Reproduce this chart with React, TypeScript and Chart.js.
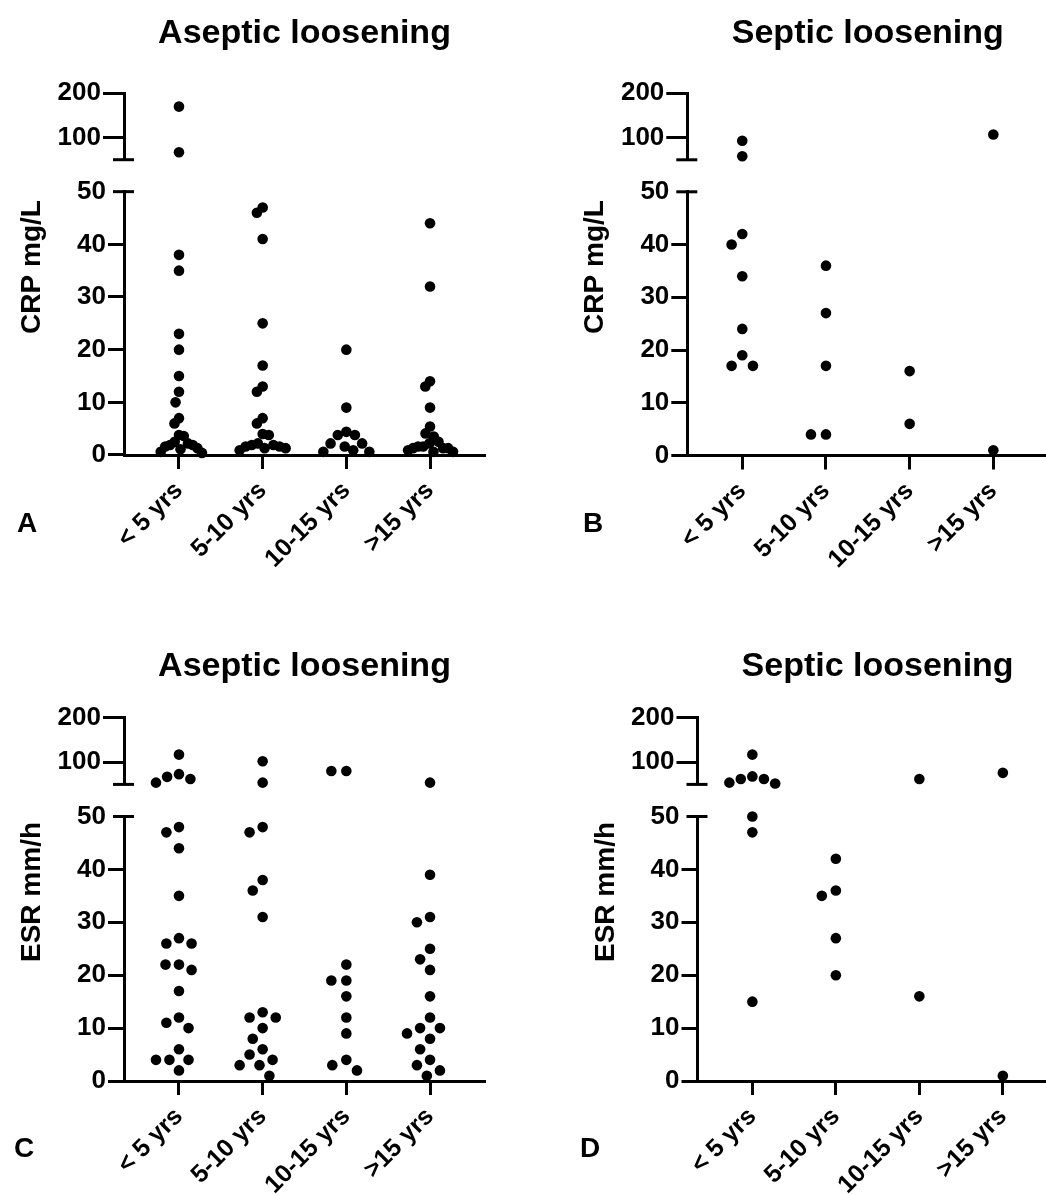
import React, { useEffect, useRef } from 'react';
import { Chart, registerables } from 'chart.js';

Chart.register(...registerables);

// ---------------- DATA ----------------
const CATEGORIES = ['< 5 yrs', '5-10 yrs', '10-15 yrs', '>15 yrs'];

// Panel A – CRP (mg/L), aseptic loosening
const crpAsepticLt5 = [170, 67, 38, 35, 23, 20, 15, 12, 10, 7, 6, 3.8, 3.6, 2.5, 2.2, 1.9, 1.9, 1.6, 1.3, 1.1, 0.6, 0.4];
const crpAseptic5to10 = [47, 46, 41, 25, 17, 13, 12, 7, 6, 4, 3.8, 2.2, 1.9, 1.9, 1.6, 1.6, 1.3, 1.3, 0.9];
const crpAseptic10to15 = [20, 9, 4.4, 3.8, 3.8, 2.2, 2.2, 1.6, 0.9, 0.6, 0.6];
const crpAsepticGt15 = [44, 32, 14, 13, 9, 5.4, 4.1, 3.5, 2.5, 2.2, 1.6, 1.6, 1.3, 1.3, 1.3, 0.9, 0.6, 0.6];

// Panel B – CRP (mg/L), septic loosening
const crpSepticLt5 = [93, 58, 42, 40, 34, 24, 19, 17, 17];
const crpSeptic5to10 = [36, 27, 17, 4, 4];
const crpSeptic10to15 = [16, 6];
const crpSepticGt15 = [107, 1];

// Panel C – ESR (mm/h), aseptic loosening
const esrAsepticLt5 = [117, 73, 67, 62, 54, 48, 47, 44, 35, 27, 26, 26, 22, 22, 21, 17, 12, 11, 10, 6, 4, 4, 4, 2];
const esrAseptic5to10 = [102, 54, 48, 47, 38, 36, 31, 13, 12, 12, 10, 8, 6, 5, 4, 3, 3, 1];
const esrAseptic10to15 = [80, 80, 22, 19, 19, 16, 12, 9, 4, 3, 2];
const esrAsepticGt15 = [54, 39, 31, 30, 25, 23, 21, 16, 12, 10, 10, 9, 8, 6, 4, 3, 2, 1];

// Panel D – ESR (mm/h), septic loosening
const esrSepticLt5 = [117, 68, 62, 62, 54, 52, 50, 47, 15];
const esrSeptic5to10 = [42, 36, 35, 27, 20];
const esrSeptic10to15 = [62, 16];
const esrSepticGt15 = [76, 1];

// Axis segments (broken y axis)
const LOWER_SEGMENT = [0, 50];
const UPPER_SEGMENT = [50, 200];
const LOWER_TICK_STEP = 10;
const UPPER_TICKS = [100, 200];

// ---------------- LAYOUT / STYLE ----------------
const FONT = "'Liberation Sans', Arial, Helvetica, sans-serif";
const BLACK = '#000000';
const POINT_RADIUS = 5.3;
const SWARM_DIST = 15;
const MAX_SPREAD = 23;
const X_PAD = 0.657; // axis extends this many category widths beyond first/last category
const SEG_WEIGHTS = { top: 66.5, gap: 32, bottom: 263.7 };
const Y_TITLE_OFFSET = 84;

type PanelDef = {
  id: string;
  title: string;
  yTitle: string;
  letter: string;
  groups: number[][];
  canvas: { left: number; top: number; w: number; h: number };
  axisX: number;
  plotTop: number;
  plotBottom: number;
  plotWidth: number;
  titleY: number;
  yTitleCy: number;
  letterX: number;
  letterY: number;
};

const PANELS: PanelDef[] = [
  {
    id: 'A', title: 'Aseptic loosening', yTitle: 'CRP mg/L', letter: 'A',
    groups: [crpAsepticLt5, crpAseptic5to10, crpAseptic10to15, crpAsepticGt15],
    canvas: { left: 0, top: 0, w: 523, h: 600 },
    axisX: 124, plotTop: 93.3, plotBottom: 455, plotWidth: 361,
    titleY: 43, yTitleCy: 267, letterX: 17, letterY: 532,
  },
  {
    id: 'B', title: 'Septic loosening', yTitle: 'CRP mg/L', letter: 'B',
    groups: [crpSepticLt5, crpSeptic5to10, crpSeptic10to15, crpSepticGt15],
    canvas: { left: 523, top: 0, w: 540, h: 600 },
    axisX: 687.3, plotTop: 93.3, plotBottom: 455.5, plotWidth: 361,
    titleY: 43, yTitleCy: 267, letterX: 60, letterY: 532,
  },
  {
    id: 'C', title: 'Aseptic loosening', yTitle: 'ESR mm/h', letter: 'C',
    groups: [esrAsepticLt5, esrAseptic5to10, esrAseptic10to15, esrAsepticGt15],
    canvas: { left: 0, top: 600, w: 523, h: 595 },
    axisX: 124, plotTop: 717.7, plotBottom: 1081, plotWidth: 361,
    titleY: 76, yTitleCy: 292, letterX: 14, letterY: 557,
  },
  {
    id: 'D', title: 'Septic loosening', yTitle: 'ESR mm/h', letter: 'D',
    groups: [esrSepticLt5, esrSeptic5to10, esrSeptic10to15, esrSepticGt15],
    canvas: { left: 523, top: 600, w: 540, h: 595 },
    axisX: 697.5, plotTop: 717.7, plotBottom: 1081, plotWidth: 361,
    titleY: 76, yTitleCy: 292, letterX: 57, letterY: 557,
  },
];

// ---------------- HELPERS ----------------
function swarmOffsets(ys: number[], dist: number, maxSpread: number): number[] {
  const order = ys.map((_, i) => i).sort((a, b) => ys[a] - ys[b]);
  const placed: { x: number; y: number }[] = [];
  const out = new Array(ys.length).fill(0);
  for (const i of order) {
    const y = ys[i];
    const intervals: [number, number][] = [];
    for (const p of placed) {
      const dy = Math.abs(p.y - y);
      if (dy < dist) {
        const w = Math.sqrt(dist * dist - dy * dy);
        intervals.push([p.x - w, p.x + w]);
      }
    }
    const cands = [0];
    intervals.forEach(([a, b]) => cands.push(a, b));
    cands.sort((a, b) => Math.abs(a) - Math.abs(b));
    let best = 0;
    for (const c of cands) {
      if (intervals.every(([a, b]) => c <= a + 1e-6 || c >= b - 1e-6)) {
        best = c;
        break;
      }
    }
    out[i] = best;
    placed.push({ x: best, y });
  }
  const widest = Math.max(0, ...out.map((o) => Math.abs(o)));
  const k = widest > maxSpread ? maxSpread / widest : 1;
  return out.map((o) => o * k);
}

const swarmPlugin = {
  id: 'swarm',
  afterDatasetsUpdate(chart: any) {
    chart.data.datasets.forEach((_: any, i: number) => {
      const els = chart.getDatasetMeta(i).data;
      const offs = swarmOffsets(els.map((e: any) => e.y), SWARM_DIST, MAX_SPREAD);
      els.forEach((e: any, k: number) => {
        e.x += offs[k];
      });
    });
  },
};

const decorPlugin = {
  id: 'decor',
  afterDraw(chart: any, _args: any, opts: any) {
    const ctx = chart.ctx;
    const { left, right } = chart.chartArea;
    ctx.save();
    ctx.fillStyle = BLACK;
    ctx.strokeStyle = BLACK;
    ctx.font = `bold 34px ${FONT}`;
    ctx.textAlign = 'center';
    ctx.textBaseline = 'alphabetic';
    ctx.fillText(opts.title, (left + right) / 2, opts.titleY);
    ctx.save();
    ctx.translate(left - Y_TITLE_OFFSET, opts.yTitleCy);
    ctx.rotate(-Math.PI / 2);
    ctx.font = `bold 28px ${FONT}`;
    ctx.textAlign = 'center';
    ctx.fillText(opts.yTitle, 0, 0);
    ctx.restore();
    ctx.font = `bold 28px ${FONT}`;
    ctx.textAlign = 'left';
    ctx.fillText(opts.letter, opts.letterX, opts.letterY);
    const yTop = chart.scales.yTop;
    const yBottom = chart.scales.yBottom;
    ctx.lineWidth = 3;
    [yTop.bottom, yBottom.top].forEach((py: number) => {
      ctx.beginPath();
      ctx.moveTo(left - 11, py);
      ctx.lineTo(left + 10, py);
      ctx.stroke();
    });
    ctx.restore();
  },
};

function buildConfig(p: PanelDef): any {
  const datasets: any[] = [];
  const pointStyle = {
    type: 'scatter',
    backgroundColor: BLACK,
    borderWidth: 0,
    pointRadius: POINT_RADIUS,
    pointHoverRadius: POINT_RADIUS,
    clip: false,
  };
  p.groups.forEach((vals, ci) => {
    const hi = vals.filter((v) => v > UPPER_SEGMENT[0]);
    const lo = vals.filter((v) => v <= LOWER_SEGMENT[1]);
    if (hi.length) datasets.push({ ...pointStyle, yAxisID: 'yTop', data: hi.map((v) => ({ x: ci, y: v })) });
    if (lo.length) datasets.push({ ...pointStyle, yAxisID: 'yBottom', data: lo.map((v) => ({ x: ci, y: v })) });
  });

  const yWidth = p.axisX - p.canvas.left;
  const padRight = p.canvas.left + p.canvas.w - (p.axisX + p.plotWidth);
  const padTop = p.plotTop - p.canvas.top;
  const xHeight = p.canvas.top + p.canvas.h - p.plotBottom;
  const tickFont = { family: FONT, size: 26, weight: 'bold' };

  const yCommon = {
    type: 'linear',
    position: 'left',
    stack: 'ybreak',
    border: { display: true, width: 3, color: BLACK },
    afterFit: (s: any) => {
      s.width = yWidth;
    },
  };

  return {
    type: 'scatter',
    data: { datasets },
    options: {
      responsive: false,
      maintainAspectRatio: false,
      animation: false,
      events: [],
      layout: { padding: { left: 0, top: padTop, right: padRight, bottom: 0 } },
      plugins: {
        legend: { display: false },
        tooltip: { enabled: false },
        title: { display: false },
        decor: {
          title: p.title,
          yTitle: p.yTitle,
          letter: p.letter,
          titleY: p.titleY,
          yTitleCy: p.yTitleCy,
          letterX: p.letterX,
          letterY: p.letterY,
        },
      },
      scales: {
        x: {
          type: 'linear',
          position: 'bottom',
          min: -X_PAD,
          max: CATEGORIES.length - 1 + X_PAD,
          afterBuildTicks: (s: any) => {
            s.ticks = CATEGORIES.map((_, i) => ({ value: i }));
          },
          afterFit: (s: any) => {
            s.height = xHeight;
          },
          border: { display: true, width: 3, color: BLACK },
          grid: {
            display: true,
            drawOnChartArea: false,
            drawTicks: true,
            tickLength: 14,
            tickWidth: 3,
            tickColor: BLACK,
          },
          ticks: {
            autoSkip: false,
            maxRotation: 45,
            minRotation: 45,
            padding: 7,
            color: BLACK,
            font: { family: FONT, size: 25, weight: 'bold' },
            callback: (v: number) => CATEGORIES[v],
          },
        },
        yBottom: {
          ...yCommon,
          stackWeight: SEG_WEIGHTS.bottom,
          min: LOWER_SEGMENT[0],
          max: LOWER_SEGMENT[1],
          grid: {
            display: true,
            drawOnChartArea: false,
            drawTicks: true,
            tickLength: 16,
            tickWidth: 3,
            tickColor: (c: any) => (c.tick && c.tick.value === LOWER_SEGMENT[1] ? 'rgba(0,0,0,0)' : BLACK),
          },
          ticks: { stepSize: LOWER_TICK_STEP, padding: 2, color: BLACK, font: tickFont },
        },
        yGap: {
          ...yCommon,
          stackWeight: SEG_WEIGHTS.gap,
          min: 0,
          max: 1,
          border: { display: false },
          grid: { display: false },
          ticks: { display: false },
        },
        yTop: {
          ...yCommon,
          stackWeight: SEG_WEIGHTS.top,
          min: UPPER_SEGMENT[0],
          max: UPPER_SEGMENT[1],
          afterBuildTicks: (s: any) => {
            s.ticks = UPPER_TICKS.map((v) => ({ value: v }));
          },
          grid: {
            display: true,
            drawOnChartArea: false,
            drawTicks: true,
            tickLength: 21,
            tickWidth: 3,
            tickColor: BLACK,
          },
          ticks: { padding: 2, color: BLACK, font: tickFont },
        },
      },
    },
    plugins: [swarmPlugin, decorPlugin],
  };
}

function Panel({ p }: { p: PanelDef }) {
  const ref = useRef<HTMLCanvasElement>(null);
  useEffect(() => {
    if (!ref.current) return;
    const chart = new Chart(ref.current, buildConfig(p));
    return () => chart.destroy();
  }, [p]);
  return (
    <canvas
      ref={ref}
      width={p.canvas.w}
      height={p.canvas.h}
      style={{ position: 'absolute', left: p.canvas.left, top: p.canvas.top, width: p.canvas.w, height: p.canvas.h }}
    />
  );
}

export default function App() {
  Chart.defaults.font.family = FONT;
  return (
    <div
      style={{
        position: 'absolute',
        left: 0,
        top: 0,
        width: 1046,
        height: 1195,
        overflow: 'hidden',
        background: '#ffffff',
      }}
    >
      {PANELS.map((p) => (
        <Panel key={p.id} p={p} />
      ))}
    </div>
  );
}
